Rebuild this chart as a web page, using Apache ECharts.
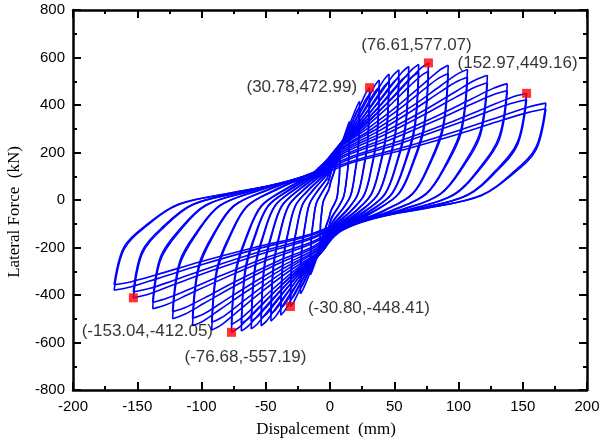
<!DOCTYPE html>
<html>
<head>
<meta charset="utf-8">
<script src="https://cdn.jsdelivr.net/npm/echarts@6/dist/echarts.min.js"></script>
<style>
html,body{margin:0;padding:0;background:#fff}
#chart{width:603px;height:447px}
</style>
</head>
<body>
<div id="chart"></div>
<script>
// Cyclic record: two cycles per displacement level, points are [displacement mm, force kN]
const level01 = [[-0.7,49],[0.8,82],[2.7,113],[4.6,148],[6.2,178],[7.1,197],[7.7,205],[7.4,113],[6.5,57],[5.4,10],[3.5,-16],[0.7,-47],[-0.8,-78],[-2.7,-107],[-4.6,-140],[-6.2,-170],[-7.1,-187],[-7.7,-195],[-7.4,-107],[-6.5,-55],[-5.4,-10],[-3.5,16],
  [-0.7,47],[0.8,79],[2.7,108],[4.6,140],[6.2,169],[7.1,186],[7.7,193],[7.4,107],[6.5,54],[5.4,9],[3.5,-15],[0.7,-45],[-0.8,-75],[-2.7,-102],[-4.6,-134],[-6.2,-161],[-7.1,-176],[-7.7,-183],[-7.4,-101],[-6.5,-52],[-5.4,-9],[-3.5,15],[-0.7,45]];
const level02 = [[-1.4,79],[1.5,132],[5.4,182],[9.2,238],[12.2,287],[14.1,317],[15.3,330],[14.6,182],[12.9,92],[10.7,17],[7.0,-26],[1.4,-76],[-1.5,-126],[-5.4,-173],[-9.2,-227],[-12.2,-274],[-14.1,-302],[-15.3,-315],[-14.6,-173],[-12.9,-88],[-10.7,-16],[-7.0,25],
  [-1.3,76],[1.5,127],[5.4,173],[9.2,226],[12.2,272],[14.1,299],[15.3,310],[14.6,172],[12.9,87],[10.7,15],[7.0,-25],[1.3,-72],[-1.5,-121],[-5.4,-165],[-9.2,-216],[-12.2,-260],[-14.1,-285],[-15.3,-296],[-14.6,-164],[-12.9,-83],[-10.7,-14],[-7.0,24],[-1.3,73]];
const level03 = [[-2.1,100],[2.3,166],[8.1,228],[13.8,299],[18.4,361],[21.2,398],[23,415],[22,228],[19.4,116],[16.1,21],[10.6,-33],[2.1,-95],[-2.3,-158],[-8.1,-217],[-13.8,-284],[-18.4,-344],[-21.2,-379],[-23,-395],[-22,-217],[-19.4,-111],[-16.1,-20],[-10.6,32],
  [-2.0,95],[2.3,160],[8.1,218],[13.8,284],[18.4,342],[21.2,376],[23,390],[22,216],[19.4,110],[16.1,19],[10.6,-31],[2.0,-91],[-2.3,-152],[-8.1,-207],[-13.8,-271],[-18.4,-326],[-21.2,-357],[-23,-371],[-22,-205],[-19.4,-105],[-16.1,-18],[-10.6,30],[-2.0,91]];
const level04 = [[-2.8,114],[3.1,189],[10.8,260],[18.5,341],[24.6,412],[28.3,454],[30.78,472.99],[29.4,260],[26,132],[21.5,24],[14.2,-38],[2.8,-108],[-3.1,-179],[-10.8,-246],[-18.5,-323],[-24.6,-390],[-28.3,-430],[-30.8,-448.41],[-29.4,-246],[-26,-125],[-21.5,-22],[-14.2,36],
  [-2.6,109],[3.1,182],[10.8,248],[18.5,324],[24.6,390],[28.3,428],[30.78,445],[29.4,246],[26,125],[21.5,21],[14.2,-35],[2.6,-103],[-3.1,-172],[-10.8,-235],[-18.5,-307],[-24.6,-370],[-28.3,-405],[-30.8,-421],[-29.4,-233],[-26,-119],[-21.5,-20],[-14.2,34],[-2.6,104]];
const level05 = [[-3.4,121],[3.8,202],[13.4,278],[23,364],[30.6,439],[35.2,485],[38.3,505],[36.6,278],[32.4,141],[26.8,25],[17.6,-40],[3.4,-116],[-3.8,-194],[-13.4,-267],[-23,-349],[-30.6,-422],[-35.2,-466],[-38.3,-485],[-36.6,-267],[-32.4,-136],[-26.8,-24],[-17.6,39],
  [-3.3,116],[3.8,194],[13.4,265],[23,346],[30.6,417],[35.2,457],[38.3,475],[36.6,263],[32.4,134],[26.8,23],[17.6,-38],[3.3,-112],[-3.8,-187],[-13.4,-255],[-23,-332],[-30.6,-400],[-35.2,-439],[-38.3,-456],[-36.6,-252],[-32.4,-129],[-26.8,-22],[-17.6,36],[-3.3,111]];
const level06 = [[-4.1,127],[4.6,212],[16.1,292],[27.6,382],[36.8,461],[42.3,509],[46,530],[43.9,292],[38.9,148],[32.2,27],[21.2,-42],[4.1,-122],[-4.6,-204],[-16.1,-281],[-27.6,-367],[-36.8,-444],[-42.3,-490],[-46,-510],[-43.9,-281],[-38.9,-143],[-32.2,-26],[-21.2,41],
  [-3.9,122],[4.6,204],[16.1,278],[27.6,363],[36.8,437],[42.3,480],[46,498],[43.9,276],[38.9,140],[32.2,24],[21.2,-40],[3.9,-117],[-4.6,-196],[-16.1,-268],[-27.6,-349],[-36.8,-421],[-42.3,-462],[-46,-479],[-43.9,-265],[-38.9,-135],[-32.2,-23],[-21.2,38],[-3.9,117]];
const level07 = [[-4.8,132],[5.4,219],[18.8,301],[32.2,395],[42.9,477],[49.3,526],[53.6,548],[51.2,301],[45.3,153],[37.5,27],[24.7,-44],[4.8,-127],[-5.4,-212],[-18.8,-292],[-32.2,-382],[-42.9,-461],[-49.3,-509],[-53.6,-530],[-51.2,-292],[-45.3,-148],[-37.5,-27],[-24.7,42],
  [-4.6,126],[5.4,211],[18.8,288],[32.2,375],[42.9,452],[49.3,496],[53.6,515],[51.2,285],[45.3,145],[37.5,25],[24.7,-41],[4.6,-122],[-5.4,-204],[-18.8,-278],[-32.2,-363],[-42.9,-437],[-49.3,-480],[-53.6,-498],[-51.2,-276],[-45.3,-140],[-37.5,-24],[-24.7,40],[-4.6,121]];
const level08 = [[-5.5,135],[6.1,225],[21.5,309],[36.8,405],[49,489],[56.4,540],[61.3,562],[58.5,309],[51.8,157],[42.9,28],[28.2,-45],[5.5,-130],[-6.1,-217],[-21.5,-299],[-36.8,-391],[-49,-472],[-56.4,-521],[-61.3,-543],[-58.5,-299],[-51.8,-152],[-42.9,-27],[-28.2,43],
  [-5.2,129],[6.1,216],[21.5,295],[36.8,385],[49,464],[56.4,509],[61.3,528],[58.5,292],[51.8,149],[42.9,25],[28.2,-42],[5.2,-125],[-6.1,-209],[-21.5,-285],[-36.8,-372],[-49,-448],[-56.4,-491],[-61.3,-510],[-58.5,-282],[-51.8,-144],[-42.9,-24],[-28.2,41],[-5.2,124]];
const level09 = [[-6.2,137],[6.9,228],[24.2,314],[41.4,411],[55.2,497],[63.5,548],[69,571],[65.9,314],[58.3,160],[48.3,29],[31.7,-46],[6.2,-132],[-6.9,-221],[-24.2,-304],[-41.4,-397],[-55.2,-480],[-63.5,-530],[-69,-552],[-65.9,-304],[-58.3,-155],[-48.3,-28],[-31.7,44],
  [-5.9,131],[6.9,220],[24.2,300],[41.4,391],[55.2,471],[63.5,517],[69,537],[65.9,297],[58.3,151],[48.3,26],[31.7,-43],[5.9,-127],[-6.9,-213],[-24.2,-290],[-41.4,-378],[-55.2,-455],[-63.5,-500],[-69,-519],[-65.9,-287],[-58.3,-146],[-48.3,-25],[-31.7,41],[-5.9,126]];
const level10 = [[-6.9,138],[7.7,231],[26.8,317],[46,415],[61.3,502],[70.5,554],[76.61,577.07],[73.2,317],[64.7,162],[53.6,29],[35.2,-46],[6.9,-134],[-7.7,-223],[-26.8,-306],[-46,-401],[-61.3,-485],[-70.5,-535],[-76.68,-557.19],[-73.2,-306],[-64.7,-156],[-53.6,-28],[-35.2,45],
  [-6.5,133],[7.7,222],[26.8,303],[46,395],[61.3,476],[70.5,522],[76.61,542],[73.2,300],[64.7,153],[53.6,26],[35.2,-43],[6.5,-128],[-7.7,-215],[-26.8,-293],[-46,-382],[-61.3,-460],[-70.5,-504],[-76.68,-524],[-73.2,-290],[-64.7,-148],[-53.6,-25],[-35.2,42],[-6.5,127]];
const level11 = [[-8.3,136],[9.2,227],[32.2,312],[55.2,408],[73.6,493],[84.6,544],[92,567],[87.9,312],[77.7,159],[64.4,28],[42.3,-45],[8.3,-132],[-9.2,-219],[-32.2,-301],[-55.2,-395],[-73.6,-477],[-84.6,-526],[-92,-548],[-87.9,-301],[-77.7,-153],[-64.4,-27],[-42.3,44],
  [-7.8,130],[9.2,218],[32.2,298],[55.2,388],[73.6,468],[84.6,513],[92,533],[87.9,295],[77.7,150],[64.4,26],[42.3,-43],[7.8,-126],[-9.2,-211],[-32.2,-288],[-55.2,-375],[-73.6,-452],[-84.6,-496],[-92,-515],[-87.9,-285],[-77.7,-145],[-64.4,-25],[-42.3,41],[-7.8,125]];
const level12 = [[-9.6,132],[10.7,220],[37.5,303],[64.2,396],[85.6,479],[98.4,528],[107,550],[102.2,303],[90.4,154],[74.9,28],[49.2,-44],[9.6,-127],[-10.7,-212],[-37.5,-292],[-64.2,-382],[-85.6,-461],[-98.4,-509],[-107,-530],[-102.2,-292],[-90.4,-148],[-74.9,-27],[-49.2,42],
  [-9.1,127],[10.7,212],[37.5,289],[64.2,377],[85.6,454],[98.4,498],[107,517],[102.2,286],[90.4,146],[74.9,25],[49.2,-41],[9.1,-122],[-10.7,-204],[-37.5,-278],[-64.2,-363],[-85.6,-437],[-98.4,-480],[-107,-498],[-102.2,-276],[-90.4,-140],[-74.9,-24],[-49.2,40],[-9.1,121]];
const level13 = [[-11,126],[12.3,210],[42.9,289],[73.5,378],[98,457],[112.7,504],[122.5,525],[117,289],[103.5,147],[85.8,26],[56.4,-42],[11,-120],[-12.3,-200],[-42.9,-275],[-73.5,-360],[-98,-435],[-112.7,-480],[-122.5,-500],[-117,-275],[-103.5,-140],[-85.8,-25],[-56.4,40],
  [-10.4,121],[12.3,202],[42.9,276],[73.5,360],[98,433],[112.7,475],[122.5,494],[117,273],[103.5,139],[85.8,24],[56.4,-39],[10.4,-115],[-12.3,-193],[-42.9,-263],[-73.5,-343],[-98,-413],[-112.7,-453],[-122.5,-470],[-117,-260],[-103.5,-133],[-85.8,-23],[-56.4,38],[-10.4,115]];
const level14 = [[-12.4,118],[13.8,196],[48.3,270],[82.8,353],[110.4,426],[127,470],[138,490],[131.8,270],[116.6,137],[96.6,25],[63.5,-39],[12.4,-110],[-13.8,-183],[-48.3,-252],[-82.8,-330],[-110.4,-398],[-127,-440],[-138,-458],[-131.8,-252],[-116.6,-128],[-96.6,-23],[-63.5,37],
  [-11.7,113],[13.8,189],[48.3,257],[82.8,336],[110.4,404],[127,443],[138,461],[131.8,255],[116.6,130],[96.6,22],[63.5,-37],[11.7,-105],[-13.8,-176],[-48.3,-240],[-82.8,-314],[-110.4,-378],[-127,-414],[-138,-431],[-131.8,-238],[-116.6,-121],[-96.6,-21],[-63.5,34],[-11.7,108]];
const level15 = [[-13.8,108],[15.3,180],[53.5,247],[91.8,323],[122.4,391],[140.7,431],[152.97,449.16],[146.1,247],[129.3,126],[107.1,22],[70.4,-36],[13.8,-99],[-15.3,-165],[-53.6,-227],[-91.8,-297],[-122.4,-358],[-140.8,-396],[-153.04,-412.05],[-146.2,-227],[-129.3,-115],[-107.1,-21],[-70.4,33],
  [-13,103],[15.3,173],[53.5,236],[91.8,308],[122.4,371],[140.7,406],[152.97,422],[146.1,234],[129.3,119],[107.1,20],[70.4,-34],[13,-95],[-15.3,-159],[-53.5,-216],[-91.8,-282],[-122.4,-340],[-140.7,-373],[-153.04,-387],[-146.1,-214],[-129.3,-109],[-107.1,-19],[-70.4,31],[-13,99]];
const level16 = [[-15.1,98],[16.8,163],[58.8,224],[100.8,294],[134.4,355],[154.6,392],[168,408],[160.4,224],[142,114],[117.6,20],[77.3,-33],[15.1,-91],[-16.8,-152],[-58.8,-209],[-100.8,-274],[-134.4,-331],[-154.6,-365],[-168,-380],[-160.4,-209],[-142,-106],[-117.6,-19],[-77.3,29],
  [-14.3,94],[16.8,157],[58.8,214],[100.8,279],[134.4,337],[154.6,369],[168,384],[160.4,212],[142,108],[117.6,18],[77.3,-31],[14.3,-87],[-16.8,-146],[-58.8,-200],[-100.8,-260],[-134.4,-314],[-154.6,-344],[-168,-357],[-160.4,-198],[-142,-101],[-117.6,-17],[-77.3,29],[-14.3,90]];

// Annotated peak points
const peakPoints = [[30.78,472.99],[76.61,577.07],[152.97,449.16],[-30.80,-448.41],[-76.68,-557.19],[-153.04,-412.05]];

const xTitle = 'Dispalcement  (mm)';
const yTitle = 'Lateral Force  (kN)';

const loops = [level01,level02,level03,level04,level05,level06,level07,level08,
               level09,level10,level11,level12,level13,level14,level15,level16];

// Break every record at its displacement reversals so the loop tips stay sharp
function splitAtReversals(pts) {
  const parts = [];
  let cur = [pts[0]];
  for (let i = 1; i < pts.length; i++) {
    cur.push(pts[i]);
    if (i < pts.length - 1) {
      const d1 = pts[i][0] - pts[i - 1][0];
      const d2 = pts[i + 1][0] - pts[i][0];
      if (d1 * d2 < 0) { parts.push(cur); cur = [pts[i]]; }
    }
  }
  parts.push(cur);
  return parts;
}

const series = [];
loops.forEach(function (loop) {
  splitAtReversals(loop).forEach(function (b) {
    series.push({
      type: 'line', data: b, smooth: 0.35, showSymbol: false, silent: true,
      lineStyle: { color: '#0000ff', width: 1.6 }, z: 2
    });
  });
});

const labelPlacement = [
  { position: 'left', distance: 8 },
  { position: 'top', distance: 5, offset: [-12, 0] },
  { position: 'top', distance: 17, offset: [-9, 0] },
  { position: 'right', distance: 13, offset: [0, 2] },
  { position: 'bottom', distance: 12, offset: [14, 0] },
  { position: 'bottom', distance: 20, offset: [14, 0] }
];

series.push({
  type: 'scatter', symbol: 'rect', symbolSize: 9, z: 5,
  itemStyle: { color: '#ff0000' },
  data: peakPoints.map(function (p, i) {
    return {
      value: p,
      label: Object.assign({
        show: true,
        formatter: '(' + p[0].toFixed(2) + ',' + p[1].toFixed(2) + ')',
        color: '#000', fontSize: 17, fontFamily: 'Liberation Sans, Arial, sans-serif'
      }, labelPlacement[i])
    };
  })
});

const axisCommon = {
  type: 'value',
  axisLine: { show: true, onZero: false, lineStyle: { color: '#000', width: 2.5 } },
  axisTick: { show: true, inside: true, length: 8, lineStyle: { color: '#000', width: 2 } },
  minorTick: { show: true, splitNumber: 2, length: 4, lineStyle: { color: '#000', width: 2 } },
  splitLine: { show: false },
  minorSplitLine: { show: false }
};

const chart = echarts.init(document.getElementById('chart'), null, { renderer: 'canvas' });
chart.setOption({
  animation: false,
  backgroundColor: '#fff',
  grid: { left: 73, right: 16, top: 10, bottom: 57, containLabel: false, outerBoundsMode: 'none' },
  xAxis: [
    Object.assign({}, axisCommon, {
      position: 'bottom', min: -200, max: 200, interval: 50,
      axisLabel: { color: '#000', fontSize: 15, margin: 9, fontFamily: 'Liberation Sans, Arial, sans-serif' },
      name: xTitle, nameLocation: 'middle', nameGap: 31,
      nameTextStyle: { color: '#000', fontSize: 17, padding: [0, 8, 0, 0], fontFamily: 'Liberation Serif, Times New Roman, serif' }
    }),
    Object.assign({}, axisCommon, {
      position: 'top', min: -200, max: 200, interval: 50, axisLabel: { show: false }
    })
  ],
  yAxis: [
    Object.assign({}, axisCommon, {
      position: 'left', min: -800, max: 800, interval: 200,
      axisLabel: { color: '#000', fontSize: 15, margin: 8, fontFamily: 'Liberation Sans, Arial, sans-serif' },
      name: yTitle, nameLocation: 'middle', nameGap: 50,
      nameTextStyle: { color: '#000', fontSize: 17, padding: [0, 24, 0, 0], fontFamily: 'Liberation Serif, Times New Roman, serif' }
    }),
    Object.assign({}, axisCommon, {
      position: 'right', min: -800, max: 800, interval: 200, axisLabel: { show: false }
    })
  ],
  series: series
});
</script>
</body>
</html>
